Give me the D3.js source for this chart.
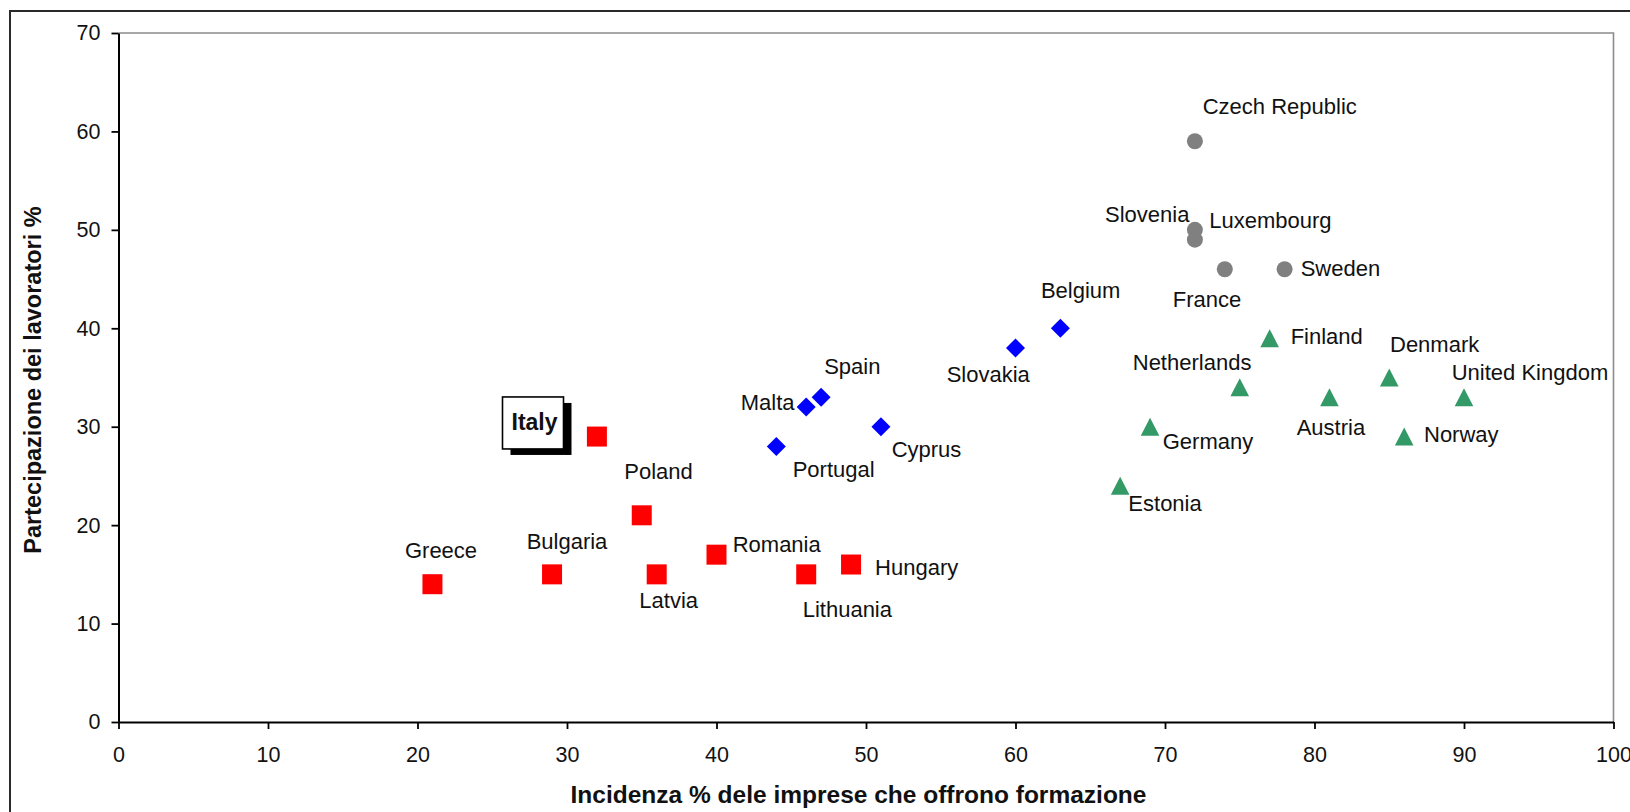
<!DOCTYPE html>
<html>
<head>
<meta charset="utf-8">
<script src="https://cdn.jsdelivr.net/npm/d3@7"></script>
<style>
  html, body { margin: 0; padding: 0; background: #fff; }
  svg { display: block; }
  text { font-family: "Liberation Sans", Arial, sans-serif; fill: #111; }
</style>
</head>
<body>
<svg id="chart" width="1630" height="812"></svg>
<script>
// Countries and their values: share of firms offering training (x)
// and share of workers taking part (y), grouped into four clusters.
const countries = [
  "Greece", "Bulgaria", "Italy", "Poland", "Latvia", "Romania", "Lithuania", "Hungary",
  "Portugal", "Malta", "Spain", "Cyprus", "Slovakia", "Belgium",
  "Czech Republic", "Slovenia", "Luxembourg", "France", "Sweden",
  "Finland", "Netherlands", "Denmark", "Austria", "United Kingdom", "Germany", "Norway", "Estonia"
];
const firmsOffering = [
  21, 29, 32, 35, 36, 40, 46, 49,
  44, 46, 47, 51, 60, 63,
  72, 72, 72, 74, 78,
  77, 75, 85, 81, 90, 69, 86, 67
];
const workerParticipation = [
  14, 15, 29, 21, 15, 17, 15, 16,
  28, 32, 33, 30, 38, 40,
  59, 50, 49, 46, 46,
  39, 34, 35, 33, 33, 30, 29, 24
];
const clusterOf = [
  0, 0, 0, 0, 0, 0, 0, 0,
  1, 1, 1, 1, 1, 1,
  2, 2, 2, 2, 2,
  3, 3, 3, 3, 3, 3, 3, 3
];
const xTicks = [0, 10, 20, 30, 40, 50, 60, 70, 80, 90, 100];
const yTicks = [0, 10, 20, 30, 40, 50, 60, 70];
const xTitle = "Incidenza % dele imprese che offrono formazione";
const yTitle = "Partecipazione dei lavoratori %";
const highlighted = "Italy";

// Label placement relative to each marker (pixels).
const labelOffsets = {
  "Greece": [-27.5, -26], "Bulgaria": [-25.4, -25], "Poland": [-17.5, -36],
  "Latvia": [-17.4, 34], "Romania": [16.2, -3], "Lithuania": [-3.5, 42.3],
  "Hungary": [24, 10.5], "Portugal": [16.4, 31], "Malta": [-65.5, 3],
  "Spain": [3, -23], "Cyprus": [10.7, 30], "Slovakia": [-68.8, 33.7],
  "Belgium": [-19.4, -30], "Czech Republic": [7.8, -26.8], "Slovenia": [-89.9, -8.2],
  "Luxembourg": [14.4, -11.4], "France": [-52.1, 37.5], "Sweden": [16.1, 6.8],
  "Finland": [21, 5.9], "Netherlands": [-107, -17.3], "Denmark": [0.75, -25.2],
  "Austria": [-32.8, 37.8], "United Kingdom": [-12.3, -17.2], "Germany": [12.7, 22.3],
  "Norway": [19.8, 5.1], "Estonia": [8.2, 24.9]
};

const clusterColors = ["#ff0000", "#0000ff", "#808080", "#339966"];

const svg = d3.select("#chart");
const plot = { left: 118.5, right: 1613.5, top: 33, bottom: 722 };

const x = d3.scaleLinear().domain([0, 100]).range([plot.left, plot.right]);
const y = d3.scaleLinear().domain([0, 70]).range([plot.bottom, plot.top]);

// Outer frame
svg.append("rect")
  .attr("x", 10).attr("y", 11)
  .attr("width", 1660).attr("height", 840)
  .attr("fill", "none").attr("stroke", "#2a2a2a").attr("stroke-width", 2);

// Plot area border (top and right)
svg.append("path")
  .attr("d", `M${plot.left},${plot.top}H${plot.right}V${plot.bottom}`)
  .attr("fill", "none").attr("stroke", "#8c8c8c").attr("stroke-width", 1.6);

// Axes
const gx = svg.append("g")
  .attr("transform", `translate(0,${plot.bottom})`)
  .call(d3.axisBottom(x).tickValues(xTicks).tickSize(7).tickSizeOuter(0).tickPadding(18));
const gy = svg.append("g")
  .attr("transform", `translate(${plot.left},0)`)
  .call(d3.axisLeft(y).tickValues(yTicks).tickSize(7).tickSizeOuter(0).tickPadding(11));

[gx, gy].forEach(g => {
  g.select(".domain").attr("stroke", "#000").attr("stroke-width", 2);
  g.selectAll(".tick line").attr("stroke", "#000").attr("stroke-width", 1.8);
  g.selectAll(".tick text")
    .attr("font-family", "'Liberation Sans', Arial, sans-serif")
    .attr("font-size", 21.5).attr("fill", "#222");
});

// Axis titles
svg.append("text")
  .attr("x", 858.5).attr("y", 803)
  .attr("text-anchor", "middle")
  .attr("font-size", 24.5).attr("font-weight", "bold")
  .text(xTitle);
svg.append("text")
  .attr("transform", `translate(41,380) rotate(-90)`)
  .attr("text-anchor", "middle")
  .attr("font-size", 23.5).attr("font-weight", "bold")
  .text(yTitle);

// Marker shapes per cluster
const markerPath = [
  d3.symbol().type(d3.symbolSquare).size(400)(),
  "M0,-9.5L9.5,0L0,9.5L-9.5,0Z",
  d3.symbol().type(d3.symbolCircle).size(Math.PI * 64)(),
  "M0,-9L9.3,9L-9.3,9Z"
];

const points = countries.map((name, i) => ({
  name,
  px: x(firmsOffering[i]),
  py: y(workerParticipation[i]),
  cluster: clusterOf[i]
}));

svg.append("g").selectAll("path")
  .data(points)
  .join("path")
  .attr("transform", d => `translate(${d.px},${d.py})`)
  .attr("d", d => markerPath[d.cluster])
  .attr("fill", d => clusterColors[d.cluster]);

// Country labels
svg.append("g").selectAll("text")
  .data(points.filter(d => d.name !== highlighted))
  .join("text")
  .attr("x", d => d.px + labelOffsets[d.name][0])
  .attr("y", d => d.py + labelOffsets[d.name][1])
  .attr("font-size", 22)
  .text(d => d.name);

// Boxed label with drop shadow for the highlighted country
const hp = points.find(d => d.name === highlighted);
const box = { dx: -94.4, dy: -39.6, w: 61, h: 52 };
const hg = svg.append("g").attr("transform", `translate(${hp.px + box.dx},${hp.py + box.dy})`);
hg.append("rect").attr("x", 8).attr("y", 6).attr("width", box.w).attr("height", box.h).attr("fill", "#000");
hg.append("rect").attr("x", 0).attr("y", 0).attr("width", box.w).attr("height", box.h)
  .attr("fill", "#fff").attr("stroke", "#000").attr("stroke-width", 1.6);
hg.append("text")
  .attr("x", 9).attr("y", 33.5)
  .attr("font-size", 23).attr("font-weight", "bold")
  .text(highlighted);
</script>
</body>
</html>
